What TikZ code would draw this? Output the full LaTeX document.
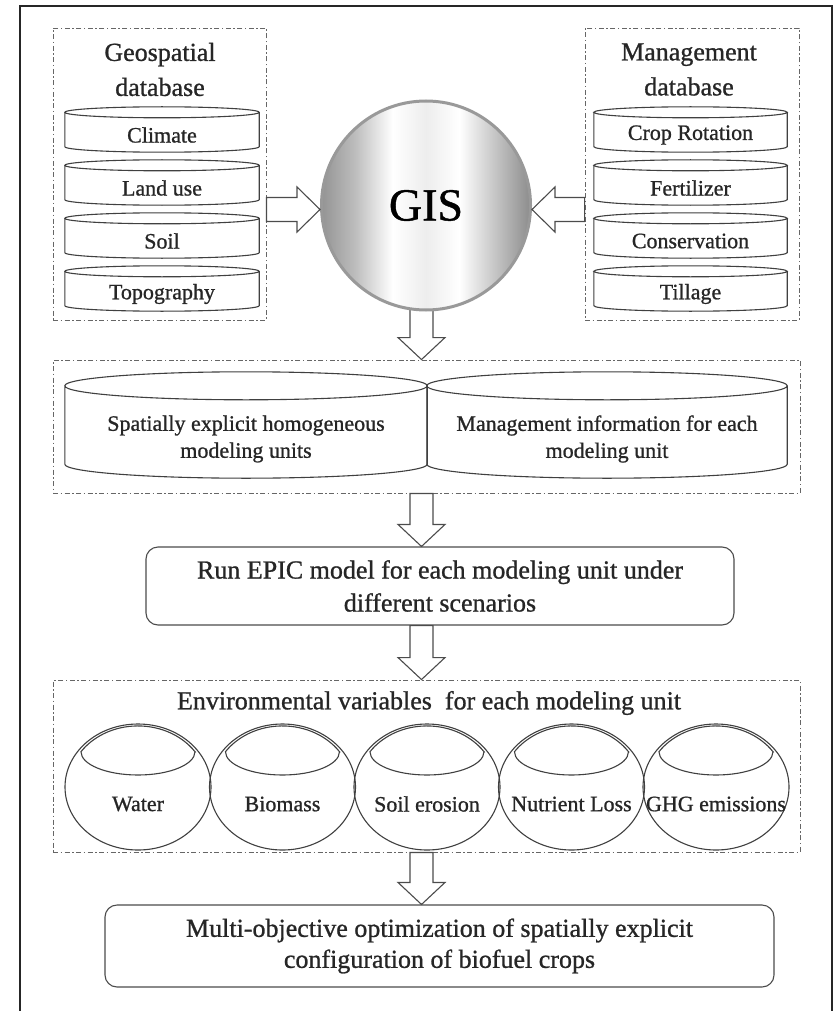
\documentclass[tikz,border=0pt]{standalone}
\usepackage{fontspec}
\setmainfont{Liberation Serif}[FakeBold=0.9]
\usetikzlibrary{calc,shapes.geometric}
\pgfdeclarelayer{bg}
\pgfsetlayers{bg,main}

% horizontal grey-white-grey sheen for the GIS sphere (25bp..75bp covers the disc)
\pgfdeclarehorizontalshading{gisshade}{100bp}{color(0bp)=(black!42); color(25bp)=(black!42);
  color(33bp)=(black!26); color(42bp)=(white); color(50bp)=(black!7); color(58bp)=(white);
  color(67bp)=(black!24); color(75bp)=(black!45); color(100bp)=(black!45)}

% cylinder outline round a node that holds the body of the cylinder (#2 = ellipse half-height)
\newcommand\drawcyl[2]{%
  \draw[cylline] let \p1=(#1.north west), \p2=(#1.south east), \n1={(\x2-\x1)/2} in
    (\x1,\y1+#2pt) -- (\x1,\y2+#2pt)
      arc[start angle=180, end angle=360, x radius=\n1, y radius=#2pt] -- (\x2,\y1+#2pt)
    (\x1+\n1,\y1+#2pt) ellipse[x radius=\n1, y radius=#2pt];}

% hollow block arrows
\newcommand\blockdown[2]{%
  \draw[blockarr] let \p1=(#1), \p2=(#2) in
    (\x1-11.5pt,\y1) -- (\x1-11.5pt,\y2+22pt) -- (\x1-23.5pt,\y2+22pt) -- (\x1,\y2)
    -- (\x1+23.5pt,\y2+22pt) -- (\x1+11.5pt,\y2+22pt) -- (\x1+11.5pt,\y1) -- cycle;}
\newcommand\blockright[2]{%
  \draw[blockarr] let \p1=(#1), \p2=(#2) in
    (\x1,\y1+12pt) -- (\x2-23pt,\y1+12pt) -- (\x2-23pt,\y1+22.5pt) -- (\x2,\y1)
    -- (\x2-23pt,\y1-22.5pt) -- (\x2-23pt,\y1-12pt) -- (\x1,\y1-12pt) -- cycle;}
\newcommand\blockleft[2]{%
  \draw[blockarr] let \p1=(#1), \p2=(#2) in
    (\x1,\y1+12pt) -- (\x2+23pt,\y1+12pt) -- (\x2+23pt,\y1+22.5pt) -- (\x2,\y1)
    -- (\x2+23pt,\y1-22.5pt) -- (\x2+23pt,\y1-12pt) -- (\x1,\y1-12pt) -- cycle;}

\begin{document}
\begin{tikzpicture}[x=1pt,y=1pt,
  dbox/.style={draw=black!60, line width=0.9pt,
    dash pattern=on 5pt off 2.5pt on 1.5pt off 2.5pt, inner sep=0pt},
  cylbody/.style={inner sep=0pt, font=\fontsize{22}{27}\selectfont, text=black!85, align=center},
  cylline/.style={draw=black!75, line width=1.1pt},
  titletext/.style={inner sep=0pt, font=\fontsize{26}{35}\selectfont, text=black!85, align=center},
  roundbox/.style={draw=black!70, line width=1.1pt, rounded corners=12pt, inner sep=0pt,
    text=black!85, align=center},
  blockarr/.style={draw=black!70, fill=white, line width=1.1pt, line join=miter},
  envcirc/.style={ellipse, draw=black!75, line width=1.1pt, minimum width=146pt,
    minimum height=126pt, inner sep=0pt},
  lid/.style={draw=black!75, line width=1.1pt},
  envlabel/.style={inner sep=0pt, font=\fontsize{22}{27}\selectfont, text=black!85},
]
\useasboundingbox (0,0) rectangle (837,-1011);
\begin{pgfonlayer}{bg}
  \fill[white] (0,0) rectangle (837,-1011);
\end{pgfonlayer}

% outer frame, open at the bottom
\draw[black!85, line width=2.2pt] (20,-1011) -- (20,-6) -- (832,-6) -- (832,-1011);

% geospatial database
\node[dbox, minimum width=213pt, minimum height=292pt] (geo) at (159.5,-174) {};
\node[titletext] (geotitle) at (160,-69.5) {Geospatial\\database};
\node[cylbody, minimum width=194pt, minimum height=34pt] (climate) at (162,-135) {Climate};
\node[cylbody, minimum width=194pt, minimum height=34pt] (landuse) at (162,-188) {Land use};
\node[cylbody, minimum width=194pt, minimum height=34pt] (soil) at (162,-241) {Soil};
\node[cylbody, minimum width=194pt, minimum height=34pt] (topo) at (162,-294) {Topography};
\foreach \c in {climate,landuse,soil,topo} {\drawcyl{\c}{5.5}}

% management database
\node[dbox, minimum width=214pt, minimum height=292pt] (mgmt) at (692,-174) {};
\node[titletext] (mgmttitle) at (689,-69.5) {Management\\database};
\node[cylbody, minimum width=193pt, minimum height=34pt] (crop) at (690.5,-135) {Crop Rotation};
\node[cylbody, minimum width=193pt, minimum height=34pt] (fert) at (690.5,-188) {Fertilizer};
\node[cylbody, minimum width=193pt, minimum height=34pt] (cons) at (690.5,-241) {Conservation};
\node[cylbody, minimum width=193pt, minimum height=34pt] (till) at (690.5,-294) {Tillage};
\foreach \c in {crop,fert,cons,till} {\drawcyl{\c}{5.5}}

% GIS sphere
\node[circle, minimum size=209pt, inner sep=0pt, shade, shading=gisshade,
  draw=black!40, line width=3pt, text=black, font=\fontsize{46}{50}\selectfont]
  (gis) at (426,-205.5) {GIS};

% modelling units
\node[dbox, minimum width=747pt, minimum height=133pt] (units) at (426.5,-426.5) {};
\node[cylbody, minimum width=362pt, minimum height=78pt] (spatial) at (246,-439)
  {Spatially explicit homogeneous\\modeling units};
\node[cylbody, minimum width=360pt, minimum height=78pt] (mginfo) at (607,-439)
  {Management information for each\\modeling unit};
\drawcyl{spatial}{14}
\drawcyl{mginfo}{14}

% EPIC run
\node[roundbox, minimum width=588pt, minimum height=78pt, font=\fontsize{26}{33}\selectfont]
  (epic) at (440,-586) {Run EPIC model for each modeling unit under\\different scenarios};

% environmental variables
\node[dbox, minimum width=747pt, minimum height=172pt] (env) at (426.5,-766) {};
\node[titletext] (envtitle) at (429,-703) {Environmental variables\ \ for each modeling unit};
\foreach \cx/\nm/\lbl in {138/water/Water, 282.5/biomass/Biomass, 427/soilero/Soil erosion,
    571.5/nutrient/Nutrient Loss, 716/ghg/GHG emissions} {
  \node[envcirc] (\nm) at (\cx,-787) {};
  \draw[lid] (\cx+57,-751.7)
    arc[start angle=34.7, end angle=145.3, x radius=69.35, y radius=59.85]
    arc[start angle=180, end angle=360, x radius=57, y radius=23.3] -- cycle;
  \node[envlabel] (\nm-t) at (\cx,-804) {\lbl};
}

% optimisation
\node[roundbox, minimum width=669pt, minimum height=82pt, font=\fontsize{26}{31}\selectfont]
  (multi) at (439.5,-946)
  {Multi-objective optimization of spatially explicit\\configuration of biofuel crops};

% block arrows
\coordinate (spine) at (421.5,0);
\coordinate (harrow) at (0,-209.5);
\begin{pgfonlayer}{bg}
  \blockdown{$(gis.south -| spine)+(0,40)$}{units.north -| spine}
\end{pgfonlayer}
\blockright{geo.east |- harrow}{gis.west |- harrow}
\blockleft{mgmt.west |- harrow}{gis.east |- harrow}
\blockdown{units.south -| spine}{epic.north -| spine}
\blockdown{epic.south -| spine}{env.north -| spine}
\blockdown{env.south -| spine}{multi.north -| spine}
\end{tikzpicture}
\end{document}
